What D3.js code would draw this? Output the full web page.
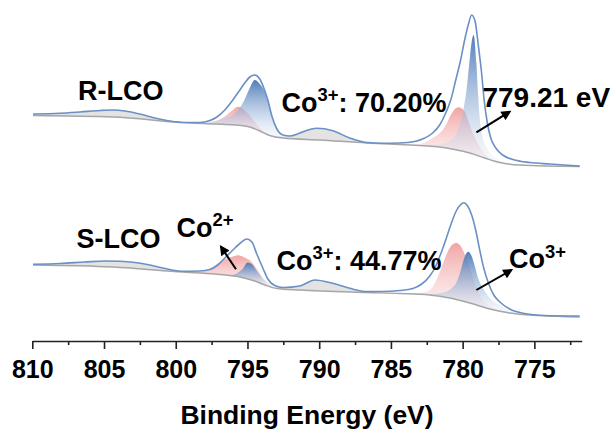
<!DOCTYPE html>
<html><head><meta charset="utf-8">
<script src="https://cdn.jsdelivr.net/npm/d3@7"></script>
<style>
html,body{margin:0;padding:0;background:#fff;}
svg{display:block;}
text{font-family:"Liberation Sans",Arial,Helvetica,sans-serif;font-weight:bold;fill:#000;}
</style></head><body>
<svg id="chart" width="614" height="433"></svg>
<script>
// ---------- axis ----------
const xTicks = [810, 805, 800, 795, 790, 785, 780, 775];
const xMinorTicks = [807.5, 802.5, 797.5, 792.5, 787.5, 782.5, 777.5, 772.5];
const xDomain = [810, 771.7];
const xTitle = "Binding Energy (eV)";

// ---------- R-LCO (values in a.u., [binding energy, intensity]) ----------
const rEnvelope = [[809.95,77],[808.07,77.7],[806.68,79],[805.28,80.5],[804.38,81],[803.54,80],[802.5,77],[801.45,73],[800.41,70],[799.36,68.5],[798.32,68.5],[797.62,70.5],[797.13,74],[796.58,81],[796.02,91],[795.53,101],[795.19,108],[794.84,114],[794.49,116],[794.14,112],[793.86,103],[793.58,91],[793.3,75],[792.95,62],[792.53,56],[792.05,55],[791.35,58],[790.65,61.5],[790.17,62.7],[789.05,60.3],[787.87,53],[786.69,48.5],[785.57,47.7],[784.38,48],[783.34,49.5],[782.64,53],[782.09,58],[781.6,66],[781.18,78],[780.83,91],[780.48,111],[780.14,131],[779.86,151],[779.61,166],[779.37,176],[779.12,169],[778.91,146],[778.7,121],[778.5,91],[778.29,69],[778.04,53],[777.69,43],[777.21,36],[776.37,31],[775.32,28.5],[773.93,27],[771.84,25]];
const rBaseline = [[809.95,75.5],[804.37,74],[799.5,68.5],[797.27,67],[795.88,66],[794.84,64],[794.14,60],[793.45,55.5],[792.53,53],[789.96,51],[786.69,48],[784.38,46.5],[781.6,44],[780.56,41.5],[779.5,38],[778.46,33],[777.41,28.5],[776.02,26],[771.84,24.5]];
// component heights above the background
const rSat1 = [[809.95,1.5],[808.07,2.7],[806.68,4.4],[805.28,6.3],[804.38,7],[803.54,6.9],[802.5,5.1],[801.45,2.3],[800.41,0.5],[799.4,0]];
const rSat2 = [[793.6,0],[792.53,1.5],[791.35,5.7],[790.65,9.7],[790.17,11.5],[789.6,11.3],[789.05,10],[787.87,3.7],[786.69,0.5],[785.57,0.3],[784.5,0]];
const rCo2p12 = [[798.3,0],[797.6,1],[797.1,3.5],[796.6,8],[796.0,15],[795.65,18.6],[795.2,16],[794.8,11],[794.3,5],[793.9,1.5],[793.4,0]];
const rCo3p12 = [[798.3,0],[797.6,2],[797.1,3.5],[796.6,6.5],[796.0,10],[795.53,17.7],[795.19,27],[794.84,39],[794.49,49],[794.14,47],[793.86,43],[793.58,34],[793.3,19.5],[792.95,7],[792.53,1.5],[792.0,0]];
const rCo2p32 = [[784.0,0],[783.34,0.5],[782.78,2.6],[782.09,8.6],[781.6,13.7],[781.13,24],[780.78,35.2],[780.3,43],[779.85,40],[779.63,32.5],[779.28,20.7],[778.81,9.6],[778.33,3],[777.76,0.5],[777.2,0]];
const rCo3p32 = [[783.3,0],[782.64,0.5],[781.6,3],[780.9,8],[780.48,14.7],[780.14,28.7],[779.93,43.4],[779.75,60],[779.56,86],[779.37,111.6],[779.23,119.3],[779.04,92],[778.92,60.8],[778.81,38.3],[778.67,24],[778.39,12.3],[777.97,5],[777.41,2.5],[776.37,0.5],[775.3,0]];

// ---------- S-LCO ----------
const sEnvelope = [[809.95,76.7],[808.07,77.5],[806.33,79],[804.93,80],[803.89,79.7],[802.84,78.5],[801.8,76],[800.76,72.5],[799.5,69.7],[798.32,70],[797.62,71.5],[797.07,76],[796.51,84],[796.02,91],[795.53,97.5],[795.04,102],[794.69,99],[794.35,87],[793.93,73],[793.58,62],[793.1,55.5],[792.53,53.5],[791.35,55],[790.3,61],[789.05,57.7],[787.87,52.7],[786.69,49.5],[785.57,49.5],[784.38,50.5],[783.47,52.5],[782.85,57],[782.29,65],[781.87,75],[781.53,87],[781.18,101],[780.83,116],[780.48,129],[780.2,135.5],[779.92,138.3],[779.65,135],[779.37,126],[779.09,111],[778.81,91],[778.53,73],[778.18,57],[777.83,46],[777.41,39],[776.72,32],[775.67,27.5],[774.28,25.5],[771.84,25]];
const sBaseline = [[809.95,76],[804.38,74],[799.5,69],[797.27,67],[795.53,64],[794.49,60],[793.79,56],[792.95,52.5],[791.35,51],[786.69,48.5],[784.38,47.5],[782.29,46],[780.9,43],[779.5,38],[778.1,32],[776.72,28],[774.63,25.5],[771.84,24]];
const sSat1 = [[809.95,0.7],[808.07,2.2],[806.33,4.3],[804.93,5.8],[803.89,6.2],[802.84,6.1],[801.8,4.6],[800.76,2.2],[799.5,0.7],[798.8,0]];
const sSat2 = [[793.4,0],[792.53,1.4],[791.35,4],[790.3,10.6],[789.6,9.8],[789.05,7.9],[787.87,3.6],[786.69,1],[785.57,0.5],[784.5,0]];
const sCo2p12 = [[799.0,0],[798.32,1.2],[797.62,5.2],[796.72,14.5],[796.02,19.6],[795.67,21.6],[795.19,20.8],[794.69,18],[794.28,12],[793.79,5],[793.3,1.5],[792.74,0]];
const sCo3p12 = [[796.6,0],[796.02,1.5],[795.67,4],[795.33,9],[794.98,16.5],[794.69,16],[794.35,11],[793.93,5.5],[793.58,2.5],[793.1,0.7],[792.53,0]];
const sCo2p32 = [[784.0,0],[783.68,0.5],[782.64,2.5],[782.09,8.4],[781.6,24],[781.13,43],[780.78,52.9],[780.48,56.5],[780.2,55.5],[779.92,49.5],[779.57,38],[779.23,24],[778.81,11],[778.33,4],[777.76,1],[777.06,0]];
const sCo3p32 = [[783.0,0],[781.96,2],[781.27,5],[780.78,10],[780.41,18],[780.14,30],[779.92,42],[779.79,47.5],[779.6,51],[779.37,47.4],[779.16,38.6],[778.93,27.6],[778.58,18.4],[778.11,11],[777.41,5.7],[776.72,2.5],[775.67,0.8],[774.6,0]];

const sampleNames = ["R-LCO", "S-LCO"];
const stackOffsets = [150, 0];

// ---------- annotations (energy, absolute a.u.) ----------
const labels = [
  {parts:[{t:"R-LCO"}], at:[806.82,241], size:27},
  {parts:[{t:"S-LCO"}], at:[806.91,92.7], size:27},
  {parts:[{t:"Co"},{t:"3+",sup:true},{t:": 70.20%"}], at:[792.63,229], size:27},
  {parts:[{t:"Co"},{t:"3+",sup:true},{t:": 44.77%"}], at:[792.97,71], size:27},
  {parts:[{t:"779.21 eV"}], at:[778.62,234], size:28},
  {parts:[{t:"Co"},{t:"2+",sup:true}], at:[799.94,104], size:27},
  {parts:[{t:"Co"},{t:"3+",sup:true}], at:[776.77,72.7], size:27}
];
const arrows = [
  {from:[779.04,208.7], to:[776.72,229.3]},
  {from:[795.80,71.7], to:[796.85,94.3]},
  {from:[779.04,51], to:[776.6,71]}
];

// ---------- drawing ----------
const svg = d3.select("#chart");
const x = d3.scaleLinear().domain(xDomain).range([32.3, 581.7]);
const y = d3.scaleLinear().domain([0, 330]).range([341, 11]);

const defs = svg.append("defs");
const blue = defs.append("linearGradient").attr("id","blueGrad").attr("x1",0).attr("y1",0).attr("x2",0).attr("y2",1);
blue.append("stop").attr("offset","0%").attr("stop-color","#4676b5").attr("stop-opacity",0.95);
blue.append("stop").attr("offset","55%").attr("stop-color","#9bb6da").attr("stop-opacity",0.6);
blue.append("stop").attr("offset","100%").attr("stop-color","#e6edf7").attr("stop-opacity",0.25);
const red = defs.append("linearGradient").attr("id","redGrad").attr("x1",0).attr("y1",0).attr("x2",0).attr("y2",1);
red.append("stop").attr("offset","0%").attr("stop-color","#f09a9a").attr("stop-opacity",0.9);
red.append("stop").attr("offset","100%").attr("stop-color","#fbe6e6").attr("stop-opacity",0.45);
defs.append("marker").attr("id","arrowHead").attr("viewBox","0 0 10 10")
  .attr("refX",8).attr("refY",5).attr("markerWidth",12).attr("markerHeight",10)
  .attr("markerUnits","userSpaceOnUse").attr("orient","auto")
  .append("path").attr("d","M0,0L10,5L0,10Z").attr("fill","#000");

const spectra = [
  {name:sampleNames[0], offset:stackOffsets[0], envelope:rEnvelope, baseline:rBaseline, sats:[rSat1,rSat2], co2:[rCo2p12,rCo2p32], co3:[rCo3p12,rCo3p32]},
  {name:sampleNames[1], offset:stackOffsets[1], envelope:sEnvelope, baseline:sBaseline, sats:[sSat1,sSat2], co2:[sCo2p12,sCo2p32], co3:[sCo3p12,sCo3p32]}
];

spectra.forEach(s => {
  const base = d3.scaleLinear().domain(s.baseline.map(d=>d[0])).range(s.baseline.map(d=>d[1])).clamp(true);
  const area = d3.area()
    .x(d => x(d[0]))
    .y0(d => y(s.offset + base(d[0])))
    .y1(d => y(s.offset + base(d[0]) + d[1]))
    .curve(d3.curveMonotoneX);
  const line = d3.line().x(d => x(d[0])).y(d => y(s.offset + d[1])).curve(d3.curveMonotoneX);
  const g = svg.append("g").attr("class","spectrum");
  s.sats.forEach(c => g.append("path").attr("d", area(c)).attr("fill","#e3e3e3"));
  s.co2.forEach(c => g.append("path").attr("d", area(c)).attr("fill","url(#redGrad)"));
  s.co3.forEach(c => g.append("path").attr("d", area(c)).attr("fill","url(#blueGrad)"));
  g.append("path").attr("d", line(s.baseline)).attr("fill","none").attr("stroke","#a6a6a6").attr("stroke-width",1.5);
  g.append("path").attr("d", line(s.envelope)).attr("fill","none").attr("stroke","#6b90c6").attr("stroke-width",1.6).attr("stroke-linejoin","round");
});

// axis
const axisY = y(0);
const major = svg.append("g").attr("transform",`translate(0,${axisY})`)
  .call(d3.axisBottom(x).tickValues(xTicks).tickSize(8).tickSizeOuter(0).tickPadding(11).tickFormat(d3.format("d")));
major.select(".domain").attr("stroke","#222").attr("stroke-width",1.6);
major.selectAll(".tick line").attr("stroke","#222").attr("stroke-width",1.6);
major.selectAll(".tick text").attr("font-size",25).attr("font-family",null).style("font-family",'"Liberation Sans",Arial,sans-serif').style("font-weight","bold").attr("fill","#000");
const minor = svg.append("g").attr("transform",`translate(0,${axisY})`)
  .call(d3.axisBottom(x).tickValues(xMinorTicks).tickSize(4).tickSizeOuter(0).tickFormat(""));
minor.select(".domain").remove();
minor.selectAll(".tick line").attr("stroke","#222").attr("stroke-width",1.6);

svg.append("text").attr("x", (x.range()[0]+x.range()[1])/2).attr("y", 424)
  .attr("text-anchor","middle").attr("font-size",26.5).text(xTitle);

// labels
labels.forEach(l => {
  const t = svg.append("text").attr("x", x(l.at[0])).attr("y", y(l.at[1])).attr("font-size", l.size);
  let up = false;
  l.parts.forEach(p => {
    const ts = t.append("tspan").text(p.t);
    if (p.sup) { ts.attr("font-size", l.size*0.68).attr("dy", -l.size*0.4); up = true; }
    else if (up) { ts.attr("dy", l.size*0.4); up = false; }
  });
});

// arrows
arrows.forEach(a => {
  svg.append("line")
    .attr("x1", x(a.from[0])).attr("y1", y(a.from[1]))
    .attr("x2", x(a.to[0])).attr("y2", y(a.to[1]))
    .attr("stroke","#000").attr("stroke-width",2)
    .attr("marker-end","url(#arrowHead)");
});
</script>
</body></html>
